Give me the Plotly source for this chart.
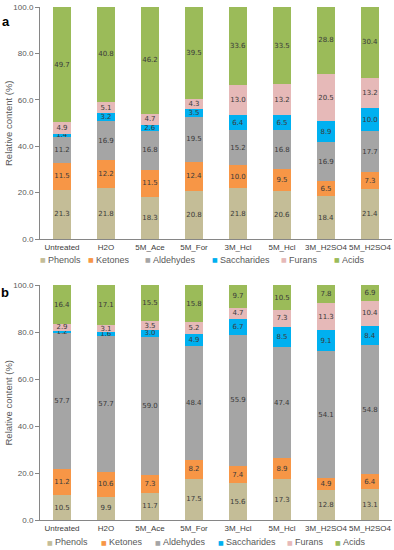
import plotly.graph_objects as go

categories = ["Untreated", "H2O", "5M_Ace", "5M_For", "3M_Hcl", "5M_Hcl", "3M_H2SO4", "5M_H2SO4"]
series_names = ["Phenols", "Ketones", "Aldehydes", "Saccharides", "Furans", "Acids"]
series_colors = ["#C4BD97", "#F79646", "#A5A5A5", "#00B0F0", "#E6B9B8", "#9BBB59"]

# Panel a
a_phenols = [21.3, 21.8, 18.3, 20.8, 21.8, 20.6, 18.4, 21.4]
a_ketones = [11.5, 12.2, 11.5, 12.4, 10.0, 9.5, 6.5, 7.3]
a_aldehydes = [11.2, 16.9, 16.8, 19.5, 15.2, 16.8, 16.9, 17.7]
a_saccharides = [1.4, 3.2, 2.6, 3.5, 6.4, 6.5, 8.9, 10.0]
a_furans = [4.9, 5.1, 4.7, 4.3, 13.0, 13.2, 20.5, 13.2]
a_acids = [49.7, 40.8, 46.2, 39.5, 33.6, 33.5, 28.8, 30.4]

# Panel b
b_phenols = [10.5, 9.9, 11.7, 17.5, 15.6, 17.3, 12.8, 13.1]
b_ketones = [11.2, 10.6, 7.3, 8.2, 7.4, 8.9, 4.9, 6.4]
b_aldehydes = [57.7, 57.7, 59.0, 48.4, 55.9, 47.4, 54.1, 54.8]
b_saccharides = [1.2, 1.6, 3.0, 4.9, 6.7, 8.5, 9.1, 8.4]
b_furans = [2.9, 3.1, 3.5, 5.2, 4.7, 7.3, 11.3, 10.4]
b_acids = [16.4, 17.1, 15.5, 15.8, 9.7, 10.5, 7.8, 6.9]

y_ticks = [0, 20, 40, 60, 80, 100]

panel_a = [a_phenols, a_ketones, a_aldehydes, a_saccharides, a_furans, a_acids]
panel_b = [b_phenols, b_ketones, b_aldehydes, b_saccharides, b_furans, b_acids]

W, H = 394, 550
fig = go.Figure()

for panel, (xa, ya) in ((panel_a, ("x", "y")), (panel_b, ("x2", "y2"))):
    for name, color, vals in zip(series_names, series_colors, panel):
        fig.add_trace(go.Bar(
            x=categories, y=vals, name=name, xaxis=xa, yaxis=ya,
            marker=dict(color=color, line=dict(width=0)),
            texttemplate="%{y:.1f}", textposition="inside",
            insidetextanchor="middle", textangle=0, constraintext="none",
            textfont=dict(family="DejaVu Sans", size=7, color="#3A3A3A"),
            showlegend=False, hoverinfo="x+y+name",
        ))

def px_y(p):
    return 1 - p / H

def px_x(p):
    return p / W

axis_font = dict(family="Liberation Sans, Arial", size=8, color="#595959")
xcommon = dict(showline=True, linecolor="#868686", linewidth=1, ticks="", showgrid=False,
               tickangle=0,
               tickfont=dict(family="Liberation Sans, Arial", size=8, color="#404040"),
               automargin=False, domain=[px_x(40), px_x(392)])
ycommon = dict(showline=True, linecolor="#868686", linewidth=1, ticks="outside", ticklen=4,
               tickcolor="#868686", showgrid=False, range=[0, 100], tickvals=y_ticks,
               tickformat=".1f", tickfont=axis_font, automargin=False, zeroline=False)

fig.update_layout(
    width=W, height=H, barmode="stack", bargap=0.61,
    margin=dict(l=0, r=0, t=0, b=0),
    paper_bgcolor="white", plot_bgcolor="white",
    xaxis=dict(anchor="y", **xcommon),
    yaxis=dict(anchor="x", domain=[px_y(239), px_y(7)], **ycommon),
    xaxis2=dict(anchor="y2", **xcommon),
    yaxis2=dict(anchor="x2", domain=[px_y(520), px_y(285)], **ycommon),
)

annotations = []
# axis titles
for yc in ((7 + 239) / 2, (285 + 520) / 2):
    annotations.append(dict(text="Relative content (%)", x=px_x(8), y=px_y(yc), xref="paper", yref="paper",
                            xanchor="center", yanchor="middle", textangle=-90, showarrow=False,
                            font=dict(family="Liberation Sans, Arial", size=9.5, color="#595959")))
# panel letters
annotations.append(dict(text="<b>a</b>", x=px_x(6), y=px_y(21), xref="paper", yref="paper",
                        xanchor="center", yanchor="middle", showarrow=False,
                        font=dict(family="Liberation Sans, Arial", size=13, color="black")))
annotations.append(dict(text="<b>b</b>", x=px_x(5), y=px_y(292), xref="paper", yref="paper",
                        xanchor="center", yanchor="middle", showarrow=False,
                        font=dict(family="Liberation Sans, Arial", size=13, color="black")))

# legends (one per panel)
legend_a_x = [43, 91, 148, 215, 284, 337]
legend_b_x = [50, 104, 158, 221, 290, 338]
for ly, xs in ((260, legend_a_x), (542, legend_b_x)):
    for name, color, mx in zip(series_names, series_colors, xs):
        annotations.append(dict(text="■", x=px_x(mx), y=px_y(ly), xref="paper", yref="paper",
                                xanchor="center", yanchor="middle", showarrow=False,
                                font=dict(family="DejaVu Sans", size=6, color=color)))
        annotations.append(dict(text=name, x=px_x(mx + 3), y=px_y(ly), xref="paper", yref="paper",
                                xanchor="left", yanchor="middle", showarrow=False,
                                font=dict(family="Liberation Sans, Arial", size=9, color="#595959")))

fig.update_layout(annotations=annotations)
fig.write_html("out.html", config={"displayModeBar": False},
               post_script="document.body.style.margin='0';document.body.style.padding='0';")
